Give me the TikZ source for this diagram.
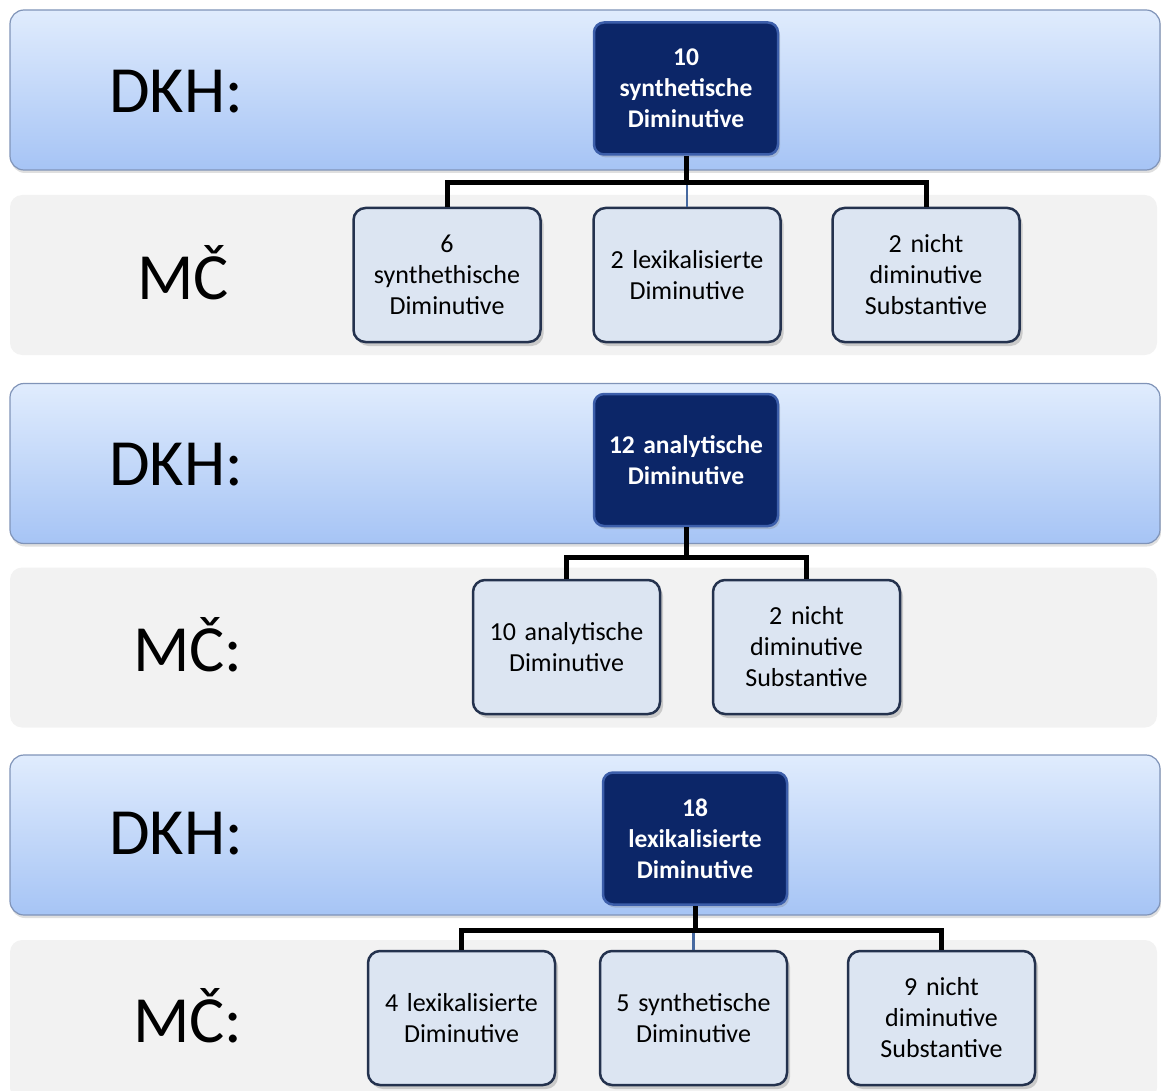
\documentclass[tikz,border=0pt]{standalone}
\usepackage{fontspec}
\setmainfont{Carlito}
\usetikzlibrary{positioning, shadows}
\definecolor{bandtop}{RGB}{224, 236, 253}
\definecolor{bandbot}{RGB}{166, 196, 245}
\definecolor{bandline}{RGB}{128, 148, 184}
\definecolor{mcgray}{RGB}{242, 242, 242}
\definecolor{topnavy}{RGB}{12, 38, 104}
\definecolor{topline}{RGB}{60, 94, 170}
\definecolor{childfill}{RGB}{220, 229, 242}
\definecolor{childline}{RGB}{36, 50, 78}
\definecolor{midblue}{RGB}{70, 105, 160}

\tikzset{
  dkhband/.style={draw=bandline, line width=1.2pt, rounded corners=14pt,
    top color=bandtop, bottom color=bandbot, minimum width=1150pt, minimum height=160pt,
    drop shadow={shadow xshift=1pt, shadow yshift=-3pt, opacity=.25}},
  mcband/.style={fill=mcgray, rounded corners=12pt, minimum width=1147pt, minimum height=160pt},
  biglabel/.style={text=black, font=\fontsize{66}{72}\selectfont},
  topbox/.style={draw=topline, line width=2.5pt, fill=topnavy, rounded corners=10pt,
    minimum width=184pt, minimum height=132pt, text width=174pt, inner sep=3pt, align=center,
    text=white, font=\bfseries\fontsize{25.5}{31}\selectfont,
    drop shadow={shadow xshift=2pt, shadow yshift=-3pt, opacity=.3}},
  childbox/.style={draw=childline, line width=2.5pt, fill=childfill, rounded corners=12pt,
    minimum width=187pt, minimum height=134pt, text width=179pt, inner sep=3pt, align=center,
    font=\fontsize{26}{31}\selectfont,
    drop shadow={shadow xshift=3pt, shadow yshift=-4pt, opacity=.35}},
  linkline/.style={line width=5pt, black},
  midline/.style={line width=2.5pt, midblue},
}

\begin{document}
\begin{tikzpicture}[x=1pt, y=-1pt]
  \useasboundingbox (0,0) rectangle (1161,1091);

  % Group 1: synthetische Diminutive
  \node[dkhband] (band1) at (585, 90) {};
  \node[mcband] (mcb1) at (583.5, 275) {};
  \node[biglabel] (dkh1) at (176, 92) {DKH:};
  \node[biglabel] (mc1) at (183, 273) {MČ};
  \node[topbox] (top1) at (686, 88.5) {10\\synthetische\\Diminutive};
  \node[childbox] (c11) at (447, 275) {6\\synthethische\\Diminutive};
  \node[childbox] (c12) at (687, 275) {2 lexikalisierte\\Diminutive};
  \node[childbox] (c13) at (926, 275) {2 nicht\\diminutive\\Substantive};
  \coordinate (bar1) at (0, 183);
  \draw[midline] (c12.north |- bar1) -- (c12.north);
  \draw[linkline] (top1.south) -- (top1.south |- bar1) -| (c11.north);
  \draw[linkline] (top1.south |- bar1) -| (c13.north);

  % Group 2: analytische Diminutive
  \node[dkhband] (band2) at (585, 463.5) {};
  \node[mcband] (mcb2) at (583.5, 647.5) {};
  \node[biglabel] (dkh2) at (176, 465) {DKH:};
  \node[biglabel] (mc2) at (188, 645) {MČ:};
  \node[topbox] (top2) at (686, 460) {12 analytische\\Diminutive};
  \node[childbox] (c21) at (566.5, 647) {10 analytische\\Diminutive};
  \node[childbox] (c22) at (806.5, 647) {2 nicht\\diminutive\\Substantive};
  \coordinate (bar2) at (0, 557);
  \draw[linkline] (top2.south) -- (top2.south |- bar2) -| (c21.north);
  \draw[linkline] (top2.south |- bar2) -| (c22.north);

  % Group 3: lexikalisierte Diminutive
  \node[dkhband] (band3) at (585, 835) {};
  \node[mcband] (mcb3) at (583.5, 1020) {};
  \node[biglabel] (dkh3) at (176, 834) {DKH:};
  \node[biglabel] (mc3) at (188, 1016) {MČ:};
  \node[topbox] (top3) at (695, 838.5) {18\\lexikalisierte\\Diminutive};
  \node[childbox] (c31) at (461.5, 1018) {4 lexikalisierte\\Diminutive};
  \node[childbox] (c32) at (693.5, 1018) {5 synthetische\\Diminutive};
  \node[childbox] (c33) at (941.5, 1018) {9 nicht\\diminutive\\Substantive};
  \coordinate (bar3) at (0, 930);
  \draw[midline] (c32.north |- bar3) -- (c32.north);
  \draw[linkline] (top3.south) -- (top3.south |- bar3) -| (c31.north);
  \draw[linkline] (top3.south |- bar3) -| (c33.north);
\end{tikzpicture}
\end{document}
